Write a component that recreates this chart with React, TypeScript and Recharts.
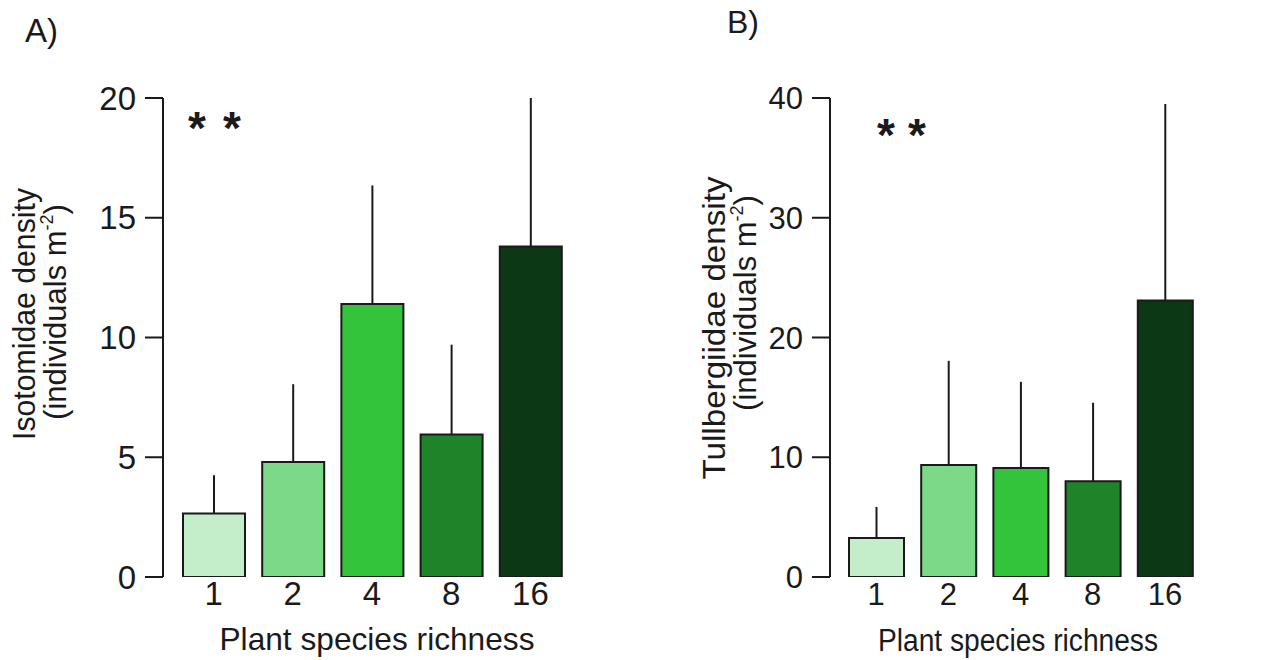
import React from "react";
import { BarChart, Bar, XAxis, YAxis, ErrorBar, Cell } from "recharts";

// plant species richness levels (x categories)
const richness = ["1", "2", "4", "8", "16"];
const barColors = ["#c4eeca", "#7bd987", "#33c43c", "#1f8329", "#0d3815"];

// A) Isotomidae: mean and upper error (SE)
const isotomidaeMean = [2.65, 4.8, 11.4, 5.95, 13.8];
const isotomidaeSE = [1.6, 3.25, 4.95, 3.75, 6.2];
const isotomidaeTicks = [0, 5, 10, 15, 20];

// B) Tullbergiidae
const tullbergiidaeMean = [3.25, 9.35, 9.1, 8.0, 23.1];
const tullbergiidaeSE = [2.6, 8.7, 7.2, 6.55, 16.4];
const tullbergiidaeTicks = [0, 10, 20, 30, 40];

const FONT = '"Liberation Sans", Arial, Helvetica, sans-serif';
const INK = "#1a1a1a";

function buildRows(mean: number[], se: number[]) {
  return richness.map((r, i) => ({ richness: r, mean: mean[i], err: [0, se[i]] }));
}

interface PanelProps {
  left: number;
  width: number;
  marginLeft: number;
  marginRight: number;
  padLeft: number;
  barSize: number;
  mean: number[];
  se: number[];
  ticks: number[];
  yFont: number;
  xFont: number;
  xTickMargin: number;
}

function Panel(p: PanelProps) {
  const data = buildRows(p.mean, p.se);
  const max = p.ticks[p.ticks.length - 1];
  return (
    <div style={{ position: "absolute", left: p.left, top: 0 }}>
      <BarChart
        width={p.width}
        height={660}
        data={data}
        margin={{ top: 98, right: p.marginRight, bottom: 43, left: p.marginLeft }}
      >
        <XAxis
          dataKey="richness"
          axisLine={false}
          tickLine={false}
          tickSize={0}
          tickMargin={p.xTickMargin}
          height={40}
          padding={{ left: p.padLeft, right: 0 }}
          tick={{ fontSize: p.xFont, fill: INK, fontFamily: FONT }}
          interval={0}
        />
        <YAxis
          domain={[0, max]}
          ticks={p.ticks}
          width={70}
          tickSize={18}
          tickMargin={9}
          axisLine={{ stroke: INK, strokeWidth: 2 }}
          tickLine={{ stroke: INK, strokeWidth: 2 }}
          tick={{ fontSize: p.yFont, fill: INK, fontFamily: FONT }}
          allowDataOverflow
        />
        <Bar
          dataKey="mean"
          barSize={p.barSize}
          stroke={INK}
          strokeWidth={2}
          isAnimationActive={false}
        >
          {data.map((d, i) => (
            <Cell key={d.richness} fill={barColors[i]} />
          ))}
          <ErrorBar dataKey="err" width={0} stroke={INK} strokeWidth={2} direction="y" />
        </Bar>
      </BarChart>
    </div>
  );
}

export default function App() {
  return (
    <div
      style={{
        position: "absolute",
        left: 0,
        top: 0,
        width: 1265,
        height: 660,
        background: "#fff",
        fontFamily: FONT,
      }}
    >
      <Panel
        left={0}
        width={600}
        marginLeft={93}
        marginRight={30}
        padLeft={11}
        barSize={62}
        mean={isotomidaeMean}
        se={isotomidaeSE}
        ticks={isotomidaeTicks}
        yFont={33}
        xFont={33}
        xTickMargin={5}
      />
      <Panel
        left={640}
        width={625}
        marginLeft={120}
        marginRight={64}
        padLeft={10}
        barSize={55}
        mean={tullbergiidaeMean}
        se={tullbergiidaeSE}
        ticks={tullbergiidaeTicks}
        yFont={31}
        xFont={31}
        xTickMargin={6}
      />
      <svg
        width={1265}
        height={660}
        style={{ position: "absolute", left: 0, top: 0, pointerEvents: "none" }}
        fontFamily={FONT}
        fill={INK}
      >
        <text x={25} y={42} fontSize={33}>A)</text>
        <text x={727} y={33} fontSize={32}>B)</text>

        <text x={377} y={650} fontSize={32} textAnchor="middle" textLength={315} lengthAdjust="spacingAndGlyphs">
          Plant species richness
        </text>
        <text x={1018} y={651} fontSize={31} textAnchor="middle" textLength={280} lengthAdjust="spacingAndGlyphs">
          Plant species richness
        </text>

        <text transform="translate(35,314) rotate(-90)" fontSize={32} textAnchor="middle" textLength={252} lengthAdjust="spacingAndGlyphs">
          Isotomidae density
        </text>
        <text transform="translate(66,312) rotate(-90)" fontSize={31} textAnchor="middle">
          (individuals m<tspan fontSize={18} dy={-13}>-2</tspan><tspan dy={13}>)</tspan>
        </text>
        <text transform="translate(725,328) rotate(-90)" fontSize={32} textAnchor="middle" textLength={303} lengthAdjust="spacingAndGlyphs">
          Tullbergiidae density
        </text>
        <text transform="translate(756,303) rotate(-90)" fontSize={31} textAnchor="middle">
          (individuals m<tspan fontSize={18} dy={-13}>-2</tspan><tspan dy={13}>)</tspan>
        </text>

        <text x={197} y={144} fontSize={46} fontWeight="bold" textAnchor="middle">*</text>
        <text x={232} y={144} fontSize={46} fontWeight="bold" textAnchor="middle">*</text>
        <text x={886} y={151} fontSize={46} fontWeight="bold" textAnchor="middle">*</text>
        <text x={917} y={151} fontSize={46} fontWeight="bold" textAnchor="middle">*</text>
      </svg>
    </div>
  );
}
